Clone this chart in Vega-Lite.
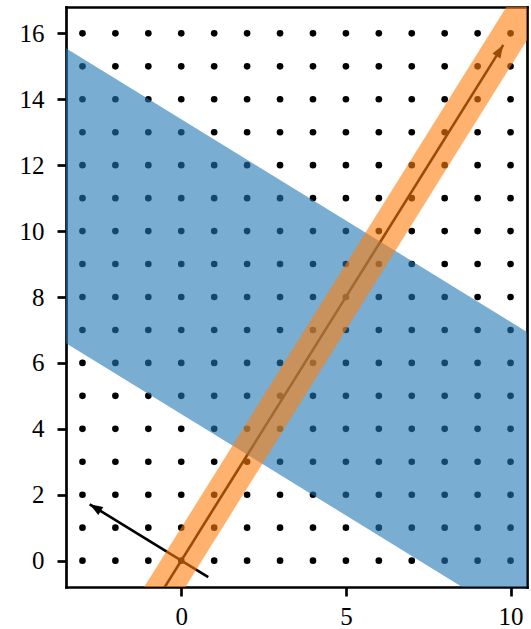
{
  "$schema": "https://vega.github.io/schema/vega-lite/v6.json",
  "width": 461,
  "height": 580,
  "autosize": {"type": "none"},
  "padding": {"left": 66, "top": 7, "right": 4, "bottom": 42},
  "background": "white",
  "config": {
    "view": {"stroke": null},
    "axis": {
      "grid": false,
      "domainColor": "black",
      "domainWidth": 2.7,
      "domainCap": "square",
      "tickColor": "black",
      "tickWidth": 2.7,
      "tickSize": 9,
      "labelFont": "Liberation Serif",
      "labelFontSize": 25,
      "labelColor": "black",
      "zindex": 1,
      "title": null
    }
  },
  "datasets": {
    "dots": [
      {"x":-3,"y":0},{"x":-3,"y":1},{"x":-3,"y":2},{"x":-3,"y":3},{"x":-3,"y":4},{"x":-3,"y":5},{"x":-3,"y":6},{"x":-3,"y":7},{"x":-3,"y":8},{"x":-3,"y":9},{"x":-3,"y":10},{"x":-3,"y":11},{"x":-3,"y":12},{"x":-3,"y":13},{"x":-3,"y":14},{"x":-3,"y":15},{"x":-3,"y":16},
      {"x":-2,"y":0},{"x":-2,"y":1},{"x":-2,"y":2},{"x":-2,"y":3},{"x":-2,"y":4},{"x":-2,"y":5},{"x":-2,"y":6},{"x":-2,"y":7},{"x":-2,"y":8},{"x":-2,"y":9},{"x":-2,"y":10},{"x":-2,"y":11},{"x":-2,"y":12},{"x":-2,"y":13},{"x":-2,"y":14},{"x":-2,"y":15},{"x":-2,"y":16},
      {"x":-1,"y":0},{"x":-1,"y":1},{"x":-1,"y":2},{"x":-1,"y":3},{"x":-1,"y":4},{"x":-1,"y":5},{"x":-1,"y":6},{"x":-1,"y":7},{"x":-1,"y":8},{"x":-1,"y":9},{"x":-1,"y":10},{"x":-1,"y":11},{"x":-1,"y":12},{"x":-1,"y":13},{"x":-1,"y":14},{"x":-1,"y":15},{"x":-1,"y":16},
      {"x":0,"y":0},{"x":0,"y":1},{"x":0,"y":2},{"x":0,"y":3},{"x":0,"y":4},{"x":0,"y":5},{"x":0,"y":6},{"x":0,"y":7},{"x":0,"y":8},{"x":0,"y":9},{"x":0,"y":10},{"x":0,"y":11},{"x":0,"y":12},{"x":0,"y":13},{"x":0,"y":14},{"x":0,"y":15},{"x":0,"y":16},
      {"x":1,"y":0},{"x":1,"y":1},{"x":1,"y":2},{"x":1,"y":3},{"x":1,"y":4},{"x":1,"y":5},{"x":1,"y":6},{"x":1,"y":7},{"x":1,"y":8},{"x":1,"y":9},{"x":1,"y":10},{"x":1,"y":11},{"x":1,"y":12},{"x":1,"y":13},{"x":1,"y":14},{"x":1,"y":15},{"x":1,"y":16},
      {"x":2,"y":0},{"x":2,"y":1},{"x":2,"y":2},{"x":2,"y":3},{"x":2,"y":4},{"x":2,"y":5},{"x":2,"y":6},{"x":2,"y":7},{"x":2,"y":8},{"x":2,"y":9},{"x":2,"y":10},{"x":2,"y":11},{"x":2,"y":12},{"x":2,"y":13},{"x":2,"y":14},{"x":2,"y":15},{"x":2,"y":16},
      {"x":3,"y":0},{"x":3,"y":1},{"x":3,"y":2},{"x":3,"y":3},{"x":3,"y":4},{"x":3,"y":5},{"x":3,"y":6},{"x":3,"y":7},{"x":3,"y":8},{"x":3,"y":9},{"x":3,"y":10},{"x":3,"y":11},{"x":3,"y":12},{"x":3,"y":13},{"x":3,"y":14},{"x":3,"y":15},{"x":3,"y":16},
      {"x":4,"y":0},{"x":4,"y":1},{"x":4,"y":2},{"x":4,"y":3},{"x":4,"y":4},{"x":4,"y":5},{"x":4,"y":6},{"x":4,"y":7},{"x":4,"y":8},{"x":4,"y":9},{"x":4,"y":10},{"x":4,"y":11},{"x":4,"y":12},{"x":4,"y":13},{"x":4,"y":14},{"x":4,"y":15},{"x":4,"y":16},
      {"x":5,"y":0},{"x":5,"y":1},{"x":5,"y":2},{"x":5,"y":3},{"x":5,"y":4},{"x":5,"y":5},{"x":5,"y":6},{"x":5,"y":7},{"x":5,"y":8},{"x":5,"y":9},{"x":5,"y":10},{"x":5,"y":11},{"x":5,"y":12},{"x":5,"y":13},{"x":5,"y":14},{"x":5,"y":15},{"x":5,"y":16},
      {"x":6,"y":0},{"x":6,"y":1},{"x":6,"y":2},{"x":6,"y":3},{"x":6,"y":4},{"x":6,"y":5},{"x":6,"y":6},{"x":6,"y":7},{"x":6,"y":8},{"x":6,"y":9},{"x":6,"y":10},{"x":6,"y":11},{"x":6,"y":12},{"x":6,"y":13},{"x":6,"y":14},{"x":6,"y":15},{"x":6,"y":16},
      {"x":7,"y":0},{"x":7,"y":1},{"x":7,"y":2},{"x":7,"y":3},{"x":7,"y":4},{"x":7,"y":5},{"x":7,"y":6},{"x":7,"y":7},{"x":7,"y":8},{"x":7,"y":9},{"x":7,"y":10},{"x":7,"y":11},{"x":7,"y":12},{"x":7,"y":13},{"x":7,"y":14},{"x":7,"y":15},{"x":7,"y":16},
      {"x":8,"y":0},{"x":8,"y":1},{"x":8,"y":2},{"x":8,"y":3},{"x":8,"y":4},{"x":8,"y":5},{"x":8,"y":6},{"x":8,"y":7},{"x":8,"y":8},{"x":8,"y":9},{"x":8,"y":10},{"x":8,"y":11},{"x":8,"y":12},{"x":8,"y":13},{"x":8,"y":14},{"x":8,"y":15},{"x":8,"y":16},
      {"x":9,"y":0},{"x":9,"y":1},{"x":9,"y":2},{"x":9,"y":3},{"x":9,"y":4},{"x":9,"y":5},{"x":9,"y":6},{"x":9,"y":7},{"x":9,"y":8},{"x":9,"y":9},{"x":9,"y":10},{"x":9,"y":11},{"x":9,"y":12},{"x":9,"y":13},{"x":9,"y":14},{"x":9,"y":15},{"x":9,"y":16},
      {"x":10,"y":0},{"x":10,"y":1},{"x":10,"y":2},{"x":10,"y":3},{"x":10,"y":4},{"x":10,"y":5},{"x":10,"y":6},{"x":10,"y":7},{"x":10,"y":8},{"x":10,"y":9},{"x":10,"y":10},{"x":10,"y":11},{"x":10,"y":12},{"x":10,"y":13},{"x":10,"y":14},{"x":10,"y":15},{"x":10,"y":16}
    ],
    "band": [
      {"x": -3.5, "lo": 6.6, "hi": 15.55},
      {"x": 10.5, "lo": -2.01, "hi": 6.94}
    ],
    "arrows": [
      {"name": "long", "x0": -1.2, "y0": -1.92, "x1": 9.78, "y1": 15.65},
      {"name": "short", "x0": 0.82, "y0": -0.5, "x1": -2.78, "y1": 1.71}
    ],
    "strip": [
      {"x0": -1.2, "y0": -1.92, "x1": 11, "y1": 17.6}
    ]
  },
  "layer": [
    {
      "data": {"name": "dots"},
      "mark": {"type": "circle", "size": 44, "color": "black", "opacity": 1},
      "encoding": {
        "x": {"field": "x", "type": "quantitative", "scale": {"domain": [-3.5, 10.5], "nice": false, "zero": false},
              "axis": {"orient": "bottom", "values": [0, 5, 10], "labelPadding": 8}},
        "y": {"field": "y", "type": "quantitative", "scale": {"domain": [-0.8, 16.8], "nice": false, "zero": false},
              "axis": {"orient": "left", "values": [0, 2, 4, 6, 8, 10, 12, 14, 16], "labelPadding": 13}}
      }
    },
    {
      "data": {"name": "arrows"},
      "mark": {"type": "rule", "color": "black", "strokeWidth": 2.6, "clip": true},
      "encoding": {
        "x": {"field": "x0", "type": "quantitative", "axis": null},
        "y": {"field": "y0", "type": "quantitative", "axis": null},
        "x2": {"field": "x1"},
        "y2": {"field": "y1"}
      }
    },
    {
      "data": {"name": "arrows"},
      "transform": [{"filter": "datum.name === 'long'"}],
      "mark": {"type": "point", "shape": "M0,0L-0.36,1L0.36,1Z", "filled": true, "color": "black", "opacity": 1, "size": 676, "angle": 32, "strokeWidth": 0},
      "encoding": {
        "x": {"field": "x1", "type": "quantitative", "axis": null},
        "y": {"field": "y1", "type": "quantitative", "axis": null}
      }
    },
    {
      "data": {"name": "arrows"},
      "transform": [{"filter": "datum.name === 'short'"}],
      "mark": {"type": "point", "shape": "M0,0L-0.36,1L0.36,1Z", "filled": true, "color": "black", "opacity": 1, "size": 676, "angle": 301.6, "strokeWidth": 0},
      "encoding": {
        "x": {"field": "x1", "type": "quantitative", "axis": null},
        "y": {"field": "y1", "type": "quantitative", "axis": null}
      }
    },
    {
      "data": {"name": "band"},
      "mark": {"type": "area", "color": "#1f77b4", "opacity": 0.6, "clip": true},
      "encoding": {
        "x": {"field": "x", "type": "quantitative", "axis": null},
        "y": {"field": "hi", "type": "quantitative", "axis": null},
        "y2": {"field": "lo"}
      }
    },
    {
      "data": {"name": "strip"},
      "mark": {"type": "rule", "color": "#ff7f0e", "opacity": 0.6, "strokeWidth": 35, "strokeCap": "butt", "clip": true},
      "encoding": {
        "x": {"field": "x0", "type": "quantitative", "axis": {"orient": "top", "labels": false, "ticks": false, "domain": true}},
        "y": {"field": "y0", "type": "quantitative", "axis": {"orient": "right", "labels": false, "ticks": false, "domain": true}},
        "x2": {"field": "x1"},
        "y2": {"field": "y1"}
      }
    }
  ],
  "resolve": {"axis": {"x": "independent", "y": "independent"}}
}
